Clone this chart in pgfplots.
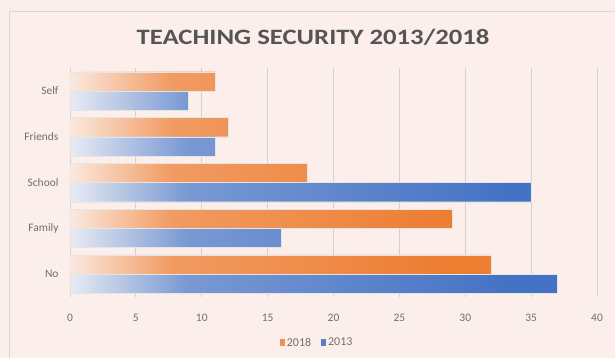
\documentclass[border=0pt]{standalone}
\usepackage{pgfplots}
\pgfplotsset{compat=1.18}
\usepackage{fontspec}
\setmainfont{Carlito}
\definecolor{bgcol}{HTML}{FCEEEA}
\definecolor{bordercol}{HTML}{D9D6D4}
\definecolor{gridcol}{HTML}{D3D0CF}
\definecolor{txtcol}{HTML}{555555}
\definecolor{tickcol}{HTML}{6F6F6F}
\definecolor{orfull}{HTML}{ED7D31}
\definecolor{orpale}{HTML}{FBE9E0}
\definecolor{blfull}{HTML}{4472C4}
\definecolor{blpale}{HTML}{E8EBF3}
\pgfdeclarehorizontalshading{orshade}{100bp}{color(0bp)=(orpale); color(25bp)=(orpale); color(37bp)=(orfull!72!orpale); color(70bp)=(orfull); color(100bp)=(orfull)}
\pgfdeclarehorizontalshading{blshade}{100bp}{color(0bp)=(blpale); color(25bp)=(blpale); color(37bp)=(blfull!68!blpale); color(70bp)=(blfull); color(100bp)=(blfull)}
\begin{document}
\begin{tikzpicture}
\path[use as bounding box] (-70bp,-61bp) rectangle (545bp,297bp);
\fill[bgcol] (-70bp,-61bp) rectangle (545bp,297bp);
\draw[bordercol, line width=1bp] (-60bp,-80bp) rectangle (560bp,285bp);
\node[text=txtcol] at (243bp,260bp) {\scalebox{1.22}[1]{\fontsize{22}{26}\selectfont\bfseries TEACHING SECURITY 2013/2018}};
\begin{axis}[
  at={(0,0)}, anchor=south west,
  scale only axis, width=527bp, height=229bp,
  xmin=0, xmax=40, ymin=-0.5, ymax=4.5,
  xtick={0,5,...,40},
  ytick={0,1,2,3,4},
  yticklabels={No,Family,School,Friends,Self},
  axis line style={draw=none},
  major tick length=0pt,
  xmajorgrids, grid style={gridcol, line width=0.9bp},
  tick label style={font=\fontsize{11.5}{13}\selectfont, text=tickcol},
  /pgf/number format/assume math mode=true,
  xticklabel style={yshift=-14bp},
  yticklabel style={xshift=-8bp},
  bar width=0.42,
  legend style={at={(0.469,-0.2)}, anchor=center, draw=none, fill=none,
    legend columns=-1, font=\fontsize{12}{14}\selectfont, text=tickcol,
    /tikz/every even column/.append style={column sep=8bp}},
  legend image code/.code={\fill[#1, draw=none] (1bp,-3bp) rectangle (6bp,3.5bp);},
]
\addlegendimage{fill=orfull!85!white, draw=none}
\addlegendentry{2018}
\addlegendimage{fill=blfull!90!white, draw=none}
\addlegendentry{2013}
\addplot[xbar, bar shift=0.21, shade, shading=orshade, draw=white!80!gray, line width=0.3bp, forget plot]
  coordinates {(32,0) (29,1) (18,2) (12,3) (11,4)};
\addplot[xbar, bar shift=-0.21, shade, shading=blshade, draw=white!80!gray, line width=0.3bp, forget plot]
  coordinates {(37,0) (16,1) (35,2) (11,3) (9,4)};
\end{axis}
\end{tikzpicture}
\end{document}
